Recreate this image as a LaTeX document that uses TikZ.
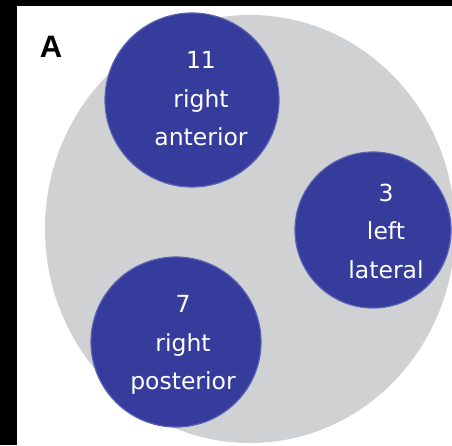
\documentclass[tikz,border=0pt]{standalone}
\usepackage{fontspec}
\setmainfont{DejaVu Sans}
\newfontfamily\panelfont{Liberation Sans}
\usetikzlibrary{positioning}
\definecolor{LobeBlue}{HTML}{353C9C}
\definecolor{LobeEdge}{HTML}{5A62B4}
\definecolor{LobeGray}{HTML}{D0D1D3}

\begin{document}
\begin{tikzpicture}[x=1pt,y=-1pt,
    lobe/.style={circle,fill=LobeBlue,draw=LobeEdge,line width=1.2pt,inner sep=0pt},
    txt/.style={align=center,text=white,font=\fontsize{23.5}{38.5}\selectfont},
    panel/.style={font=\panelfont\bfseries\fontsize{31}{31}\selectfont,inner sep=0pt}
  ]
    \useasboundingbox (0,0) rectangle (452,445);
    % frame and background
    \fill[black] (0,0) rectangle (452,445);
    \fill[white] (17,6) rectangle (452,445);
    \fill[LobeGray] (250,229) ellipse [x radius=205, y radius=214];
    % the three lesion groups
    \node[lobe,minimum size=174pt] (ant) at (192,100) {};
    \node[lobe,minimum size=156pt] (lat) at (373,230) {};
    \node[lobe,minimum size=170pt] (post) at (176,342) {};
    \node[txt,xshift=9pt,yshift=1pt] (antT) at (ant) {11\\right\\anterior};
    \node[txt,xshift=13pt,yshift=-1pt] (latT) at (lat) {3\\left\\lateral};
    \node[txt,xshift=7pt,yshift=-3pt] (postT) at (post) {7\\right\\posterior};
    \node[panel] (A) at (51,47) {A};
  \end{tikzpicture}
\end{document}
